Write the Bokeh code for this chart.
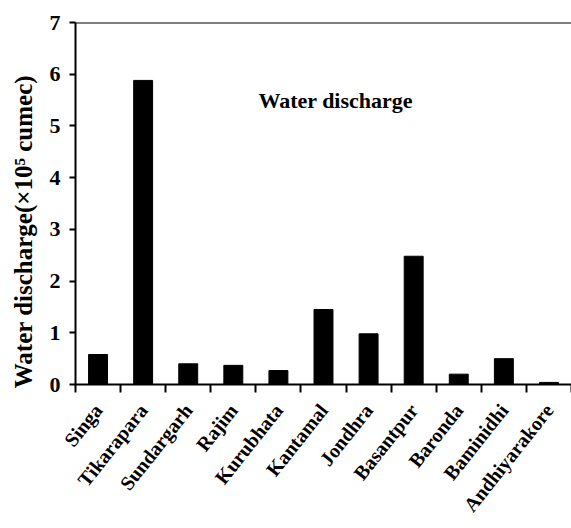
import math
from bokeh.plotting import figure
from bokeh.models import (ColumnDataSource, Range1d, FixedTicker, Span, Label)
from bokeh.embed import file_html
from bokeh.resources import INLINE

stations = ["Singa", "Tikarapara", "Sundargarh", "Rajim", "Kurubhata", "Kantamal",
            "Jondhra", "Basantpur", "Baronda", "Baminidhi", "Andhiyarakore"]
discharge = [0.58, 5.88, 0.40, 0.37, 0.27, 1.45, 0.98, 2.48, 0.20, 0.50, 0.04]
y_ticks = [0, 1, 2, 3, 4, 5, 6, 7]

FONT = "Liberation Serif"

centers = [i + 0.5 for i in range(len(stations))]
src = ColumnDataSource(dict(x=centers, top=discharge))

p = figure(width=571, height=528, output_backend="svg", toolbar_location=None,
           x_range=Range1d(0, len(stations)), y_range=Range1d(0, 7),
           min_border_left=75, min_border_right=0, min_border_top=22,
           min_border_bottom=144)
p.outline_line_color = None
p.grid.grid_line_color = None
p.background_fill_color = "white"
p.border_fill_color = "white"

p.vbar(x="x", top="top", width=0.42, bottom=0, source=src,
       fill_color="black", line_color="black")

# top frame line
p.add_layout(Span(location=7, dimension="width", line_color="black", line_width=2))

xa = p.xaxis[0]
xa.ticker = FixedTicker(ticks=centers, minor_ticks=list(range(len(stations) + 1)))
xa.major_label_overrides = {c: s for c, s in zip(centers, stations)}
xa.major_tick_out = 0
xa.major_tick_in = 0
xa.minor_tick_out = 8
xa.minor_tick_in = 0
xa.minor_tick_line_width = 2
xa.minor_tick_line_color = "black"
xa.axis_line_width = 2
xa.major_label_orientation = 0.9
xa.major_label_text_font = FONT
xa.major_label_text_font_style = "bold"
xa.major_label_text_font_size = "20px"
xa.major_label_text_color = "black"
xa.major_label_standoff = 14

ya = p.yaxis[0]
ya.ticker = FixedTicker(ticks=y_ticks)
ya.minor_tick_line_color = None
ya.major_tick_out = 6
ya.major_tick_in = 0
ya.major_tick_line_width = 2
ya.axis_line_width = 2
ya.major_label_text_font = FONT
ya.major_label_text_font_style = "bold"
ya.major_label_text_font_size = "22px"
ya.major_label_text_color = "black"
ya.major_label_standoff = 9
ya.axis_label = "Water discharge(×10⁵ cumec)" + "\u00a0" * 9
ya.axis_label_text_font = FONT
ya.axis_label_text_font_style = "bold"
ya.axis_label_text_font_size = "25px"
ya.axis_label_text_color = "black"
ya.axis_label_standoff = 10

p.add_layout(Label(x=5.77, y=5.49, text="Water discharge", text_font=FONT,
                   text_font_style="bold", text_font_size="22px",
                   text_color="black", text_align="center", text_baseline="middle"))

open("out.html", "w").write(file_html(p, INLINE))
